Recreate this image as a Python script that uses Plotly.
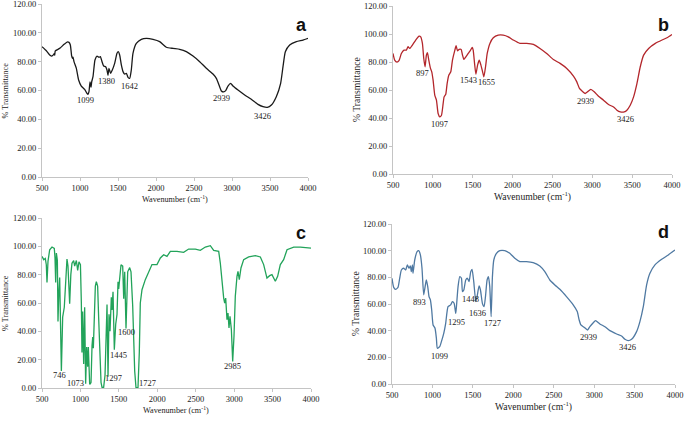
import plotly.graph_objects as go

# FTIR spectra, wavenumber (cm-1) vs % transmittance
wn_a = [500, 557, 601, 623, 645, 660, 667, 675, 732, 790, 830, 855, 873, 890, 900, 908, 921,
        952, 982, 1017, 1061, 1092, 1105, 1118, 1132, 1145, 1154, 1171, 1197, 1224, 1250, 1268,
        1290, 1311, 1338, 1355, 1368, 1381, 1403, 1425, 1456, 1487, 1504, 1522, 1544, 1566, 1588,
        1610, 1632, 1654, 1675, 1697, 1741, 1807, 1873, 1961, 2048, 2136, 2224, 2311, 2399, 2487,
        2575, 2662, 2750, 2794, 2829, 2860, 2890, 2917, 2947, 2982, 3013, 3079, 3167, 3254, 3342,
        3408, 3465, 3518, 3583, 3640, 3671, 3702, 3759, 3847, 3934, 4000]
t_a = [90.4, 87.6, 84.6, 83.9, 84.5, 85.5, 84.5, 87.5, 89.2, 92, 93.6, 93.4, 91.6, 84, 82.3, 83.2, 80,
       75.4, 67.3, 63.1, 60.8, 58, 57.3, 59.2, 66, 62.2, 66, 69.6, 81.2, 83.9, 83, 83.5,
       80, 77, 76.5, 74.2, 70.5, 75.4, 71.9, 74.2, 78.8, 85.8, 86.9, 84.6, 77.7, 73.1, 71.4,
       71.9, 69.1, 68.4, 74.2, 85.8, 92.7, 95.5, 96.2, 95.5, 93.9, 90, 89.2, 88.6, 87, 83.9,
       80, 75.4, 71.4, 68.4, 63.8, 59.7, 59, 59.9, 63.1, 65, 63.1, 60.3, 56.9, 53.9, 50.4,
       48.8, 48.3, 49.9, 55.7, 65, 76.5, 86.9, 91.6, 93.9, 95, 96.2]

wn_b = [500, 521, 550, 575, 605, 638, 668, 689, 710, 743,
        785, 827, 848, 869, 886, 902, 919, 932, 949, 970,
        986, 1003, 1024, 1045, 1066, 1087, 1108, 1129, 1141, 1162,
        1179, 1200, 1225, 1246, 1276, 1292, 1309, 1330, 1355, 1372,
        1389, 1414, 1443, 1473, 1494, 1506, 1523, 1540, 1561, 1582,
        1603, 1624, 1640, 1661, 1682, 1716, 1758, 1820, 1883, 1946,
        2009, 2093, 2177, 2261, 2344, 2428, 2512, 2596, 2680, 2764,
        2806, 2839, 2869, 2910, 2940, 2982, 3024, 3078, 3141, 3204,
        3267, 3309, 3351, 3401, 3434, 3476, 3518, 3560, 3602, 3644,
        3707, 3791, 3875, 3937, 4000]
t_b = [86.1, 81.3, 79.9, 80.9, 86.1, 88.5, 88.5, 90.9, 89.7, 92.1,
       95.7, 98.5, 98, 93.3, 82.5, 76.6, 84.9, 86.6, 81.3, 75.4,
       73, 67, 56.3, 52.7, 43.2, 40.8, 42, 50.3, 55.1, 57,
       64.6, 70.6, 73, 81.3, 88.5, 91.6, 88, 89, 89, 84.9,
       81.8, 83.7, 86.1, 88.5, 90.4, 88.5, 79, 71.3, 77.8, 81.3,
       77.8, 73, 69.4, 76.6, 86.1, 93.3, 97.3, 99.2, 99.2, 98,
       95.7, 93.3, 93.3, 92.6, 89.7, 86.1, 81.8, 79, 75.4, 69.9,
       65.8, 61.1, 59.4, 57.5, 58.7, 60.4, 58.7, 55.6, 52.7, 49.6,
       47.9, 45.6, 44.4, 44.4, 45.6, 49.1, 55.1, 64.6, 76.6, 84.9,
       89.7, 93.3, 95.7, 97.3, 99.7]

wn_c = [500, 522, 543, 556, 565, 578, 600, 630, 660, 669,
        678, 687, 700, 708, 718, 730, 752, 769, 790, 808,
        825, 838, 851, 860, 875, 890, 912, 925, 947, 964,
        981, 1000, 1012, 1020, 1029, 1042, 1055, 1068, 1081, 1094,
        1103, 1111, 1120, 1129, 1138, 1151, 1160, 1168, 1181, 1194,
        1207, 1224, 1237, 1250, 1268, 1281, 1302, 1320, 1333, 1346,
        1359, 1372, 1385, 1402, 1411, 1424, 1441, 1459, 1476, 1489,
        1498, 1511, 1528, 1550, 1563, 1576, 1593, 1615, 1641, 1658,
        1680, 1706, 1723, 1749, 1766, 1779, 1801, 1844, 1888, 1931,
        1996, 2040, 2083, 2126, 2170, 2256, 2343, 2408, 2495, 2560,
        2625, 2690, 2734, 2799, 2820, 2842, 2864, 2877, 2890, 2907,
        2920, 2933, 2946, 2964, 2981, 2998, 3015, 3037, 3050, 3067,
        3089, 3124, 3189, 3276, 3341, 3384, 3427, 3462, 3492, 3536,
        3566, 3601, 3644, 3688, 3731, 3775, 3861, 4000]
t_c = [92.9, 90.6, 91.5, 87, 74.5, 89.4, 97.6, 99.5, 98.5, 92,
       74.5, 95.3, 90, 47, 66, 78, 12, 50, 57, 75,
       91, 86, 70, 59.5, 80, 88, 90, 86, 90, 83,
       89, 87, 60, 25, 54, 17, 57, 3, 29, 15,
       29, 12, 3, 3, 4, 30, 36, 28, 55, 72,
       75, 72, 50, 22, 4, 0.5, 0.5, 9, 45, 59,
       8, 52, 40, 64, 55, 68, 27, 45, 52, 75,
       70, 80, 87, 86, 63, 82, 42, 82, 85, 82,
       58, 12, 0.3, 0.3, 25, 60, 69.4, 76.5, 82.4, 87.1,
       87.1, 91.8, 94.1, 92.9, 96.5, 96.5, 95.8, 98.1, 98.1, 97.2,
       99.5, 100.5, 97.2, 96.5, 88.2, 74.1, 63.5, 60, 63.5, 48.2,
       52.9, 42.4, 50.6, 41.2, 18.8, 36.5, 64.7, 78.8, 82.4, 76.5,
       84.7, 90.6, 92.5, 93.4, 92.5, 87.1, 77.6, 79.3, 80, 75.3,
       78.8, 87.1, 90.6, 97.6, 98.8, 99.5, 99.5, 98.8]

wn_d = [500, 521, 545, 574, 595, 616, 644, 669, 690, 710,
        727, 739, 752, 760, 781, 810, 830, 851, 871, 892,
        913, 925, 942, 958, 975, 991, 1008, 1032, 1049, 1061,
        1090, 1111, 1140, 1164, 1193, 1226, 1247, 1268, 1288, 1297,
        1317, 1338, 1359, 1371, 1388, 1412, 1433, 1453, 1474, 1490,
        1511, 1536, 1552, 1577, 1594, 1618, 1639, 1656, 1676, 1693,
        1709, 1726, 1742, 1759, 1792, 1833, 1895, 1957, 2019, 2081,
        2163, 2246, 2328, 2390, 2452, 2514, 2576, 2658, 2741, 2791,
        2815, 2836, 2877, 2918, 2947, 2989, 3017, 3071, 3133, 3195,
        3278, 3339, 3381, 3422, 3463, 3525, 3566, 3608, 3649, 3690,
        3752, 3835, 3917, 4000]
t_d = [79.3, 72.5, 71, 72.5, 79.3, 85.5, 86.8, 85.5, 89.3, 86.8,
       88.5, 84.3, 89.3, 83, 93, 99.3, 100, 96.8, 86.8, 66.8,
       74.3, 78, 73, 65.5, 63, 55.5, 44.3, 41.8, 34.3, 26.8,
       28, 31.8, 38, 45.5, 58, 59.3, 61.8, 60.5, 53, 58,
       73, 80.5, 79.3, 69.3, 70.5, 78, 79.3, 76.8, 84.3, 86,
       76.8, 61.8, 65.5, 73.5, 70.5, 60.5, 58, 65.5, 78, 80.5,
       73, 50.5, 80.5, 93, 98, 100, 100, 98, 94.3, 91.8,
       91.8, 91, 88.5, 84.3, 78, 74.3, 71, 65.5, 59.3, 54.3,
       48, 44.3, 42.5, 40.5, 43, 46, 47.5, 45, 43, 40,
       37.5, 36, 33.5, 32.5, 33.5, 39.3, 46.8, 58, 74.3, 83,
       89.3, 93.5, 96.8, 100.5]

# peak labels (text, wavenumber, where the text sits)
lab_a = ['1099', '1380', '1642', '2939', '3426']
lab_a_x = [1070, 1346, 1654, 2868, 3395]
lab_a_y = [53.4, 66.6, 63.1, 54.6, 42.5]
lab_b = ['897', '1097', '1543', '1655', '2939', '3426']
lab_b_x = [865, 1078, 1452, 1674, 2910, 3422]
lab_b_y = [72.3, 36, 67.5, 65.6, 52, 39.4]
lab_c = ['746', '1073', '1297', '1445', '1600', '1727', '2985']
lab_c_x = [730, 934, 1432, 1497, 1597, 1875, 2981]
lab_c_y = [8.9, 3.5, 7.1, 23, 39.5, 3.5, 15.3]
lab_d = ['893', '1099', '1295', '1448', '1636', '1727', '2939', '3426']
lab_d_x = [843, 1082, 1297, 1474, 1557, 1738, 2927, 3409]
lab_d_y = [61.8, 21.3, 46.3, 63.5, 53.5, 46, 35.3, 27.8]

W, H = 685, 421
SERIF = 'Liberation Serif'

panels = [
    # letter, x, y, colour, labels, plot box px (left, right, top, bottom), letter px (x, y), title size
    ('a', wn_a, t_a, '#1a1a1a', (lab_a, lab_a_x, lab_a_y), (42, 308, 4, 177), (301, 25), 8.2),
    ('b', wn_b, t_b, '#b3262b', (lab_b, lab_b_x, lab_b_y), (393, 672, 6, 174), (663, 25), 9.6),
    ('c', wn_c, t_c, '#22a35a', (lab_c, lab_c_x, lab_c_y), (42, 311, 218, 388), (301, 233), 8.2),
    ('d', wn_d, t_d, '#4f79a2', (lab_d, lab_d_x, lab_d_y), (392, 675, 224, 384), (663, 232), 9.6),
]

fig = go.Figure()
annotations = []
layout = {}

for i, (letter, xs, ys, color, labs, box, lpos, tsize) in enumerate(panels):
    n = '' if i == 0 else str(i + 1)
    xref, yref = 'x' + n, 'y' + n
    left, right, top, bottom = box

    fig.add_trace(go.Scatter(
        x=xs, y=ys, mode='lines',
        line=dict(color=color, width=1.3, shape='spline' if letter != 'c' else 'linear', smoothing=0.5),
        xaxis=xref, yaxis=yref, showlegend=False, hoverinfo='skip'
    ))

    common = dict(showline=True, linecolor='#c4c4c4', linewidth=1, ticks='outside', ticklen=3,
                  tickcolor='#c4c4c4', showgrid=False, zeroline=False, automargin=False,
                  ticklabeloverflow='allow',
                  tickfont=dict(family=SERIF, size=8.5, color='#222'))
    layout['xaxis' + n] = dict(common, domain=[left / W, right / W], anchor=yref,
                               range=[500, 4000], tick0=500, dtick=500)
    layout['yaxis' + n] = dict(common, domain=[1 - bottom / H, 1 - top / H], anchor=xref,
                               range=[0, 120], tick0=0, dtick=20, tickformat='.2f')

    # axis titles and panel letter
    annotations.append(dict(x=(left + right) / 2 / W, y=1 - (bottom + 22) / H, xref='paper', yref='paper',
                            xanchor='center', yanchor='middle',
                            text='Wavenumber (cm<sup>-1</sup>)', showarrow=False,
                            font=dict(family=SERIF, size=tsize, color='#222')))
    annotations.append(dict(x=(left - 37) / W, y=1 - (top + bottom) / 2 / H, xref='paper', yref='paper',
                            xanchor='center', yanchor='middle',
                            text='% Transmittance', textangle=-90, showarrow=False,
                            font=dict(family=SERIF, size=tsize, color='#222')))
    annotations.append(dict(x=lpos[0] / W, y=1 - lpos[1] / H, xref='paper', yref='paper',
                            xanchor='center', yanchor='middle',
                            text='<b>%s</b>' % letter, showarrow=False,
                            font=dict(family='Liberation Sans', size=18, color='#111')))

    for txt, lx, ly in zip(*labs):
        annotations.append(dict(x=lx, y=ly, xref=xref, yref=yref, text=txt, showarrow=False,
                                xanchor='center', yanchor='middle',
                                font=dict(family=SERIF, size=8.5, color='#222')))

fig.update_layout(
    width=W, height=H,
    margin=dict(l=0, r=0, t=0, b=0, autoexpand=False),
    paper_bgcolor='white', plot_bgcolor='white',
    annotations=annotations,
    **layout
)

# the page's default body margin would shift the figure by 8px
fig.write_html("out.html", config={'displayModeBar': False},
               post_script="document.body.style.margin='0';")
